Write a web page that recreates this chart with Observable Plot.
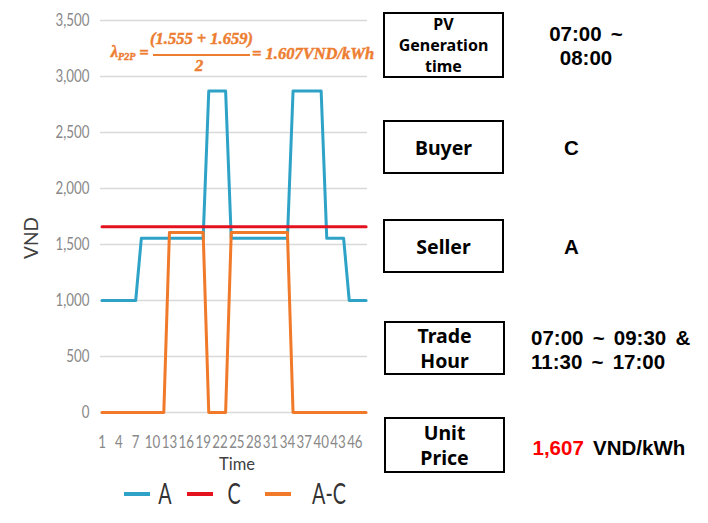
<!DOCTYPE html>
<html>
<head>
<meta charset="utf-8">
<script src="https://cdn.jsdelivr.net/npm/d3@7"></script>
<script src="https://cdn.jsdelivr.net/npm/@observablehq/plot@0.6"></script>
<style>
  html, body { margin: 0; padding: 0; background: #fff; }
  #wrap { position: relative; width: 708px; height: 523px; overflow: hidden; background: #fff; }
  #chart { position: absolute; left: 0; top: 0; }
  .abs { position: absolute; white-space: nowrap; line-height: 1; transform: translate(-50%, -50%); }
  .f { font-family: "Liberation Serif", serif; font-weight: bold; font-style: italic; color: #ED7D31; font-size: 16.5px; -webkit-text-stroke: 0.45px #ED7D31; }
  .box { position: absolute; box-sizing: border-box; border: 2px solid #000; display: flex; flex-direction: column;
         align-items: center; justify-content: center; font-family: "Noto Sans", sans-serif; font-weight: bold; color: #000; }
  .val { position: absolute; font-family: "Liberation Sans", Arial, sans-serif; font-weight: bold; color: #000; font-size: 20.5px; white-space: nowrap; word-spacing: 3.5px; }
  .leg { position: absolute; height: 4px; }
  .legt { font-family: Lato, sans-serif; font-size: 29px; color: #333; }
</style>
</head>
<body>
<div id="wrap">
  <div id="chart"></div>
</div>
<script>
// ---- data ----
const time = [1,2,3,4,5,6,7,8,9,10,11,12,13,14,15,16,17,18,19,20,21,22,23,24,
              25,26,27,28,29,30,31,32,33,34,35,36,37,38,39,40,41,42,43,44,45,46,47,48];
const seriesA = [1000,1000,1000,1000,1000,1000,1000,
                 1555,1555,1555,1555,1555,1555,1555,1555,1555,1555,1555,1555,
                 2870,2870,2870,2870,
                 1555,1555,1555,1555,1555,1555,1555,1555,1555,1555,1555,
                 2870,2870,2870,2870,2870,2870,
                 1555,1555,1555,1555,
                 1000,1000,1000,1000];
const seriesC = [1659,1659,1659,1659,1659,1659,1659,1659,1659,1659,1659,1659,
                 1659,1659,1659,1659,1659,1659,1659,1659,1659,1659,1659,1659,
                 1659,1659,1659,1659,1659,1659,1659,1659,1659,1659,1659,1659,
                 1659,1659,1659,1659,1659,1659,1659,1659,1659,1659,1659,1659];
const seriesAC = [0,0,0,0,0,0,0,0,0,0,0,0,
                  1607,1607,1607,1607,1607,1607,1607,
                  0,0,0,0,
                  1607,1607,1607,1607,1607,1607,1607,1607,1607,1607,1607,
                  0,0,0,0,0,0,0,0,0,0,0,0,0,0];
const seriesNames = ["A", "C", "A-C"];
const seriesColors = ["#2EA3C7", "#E3121E", "#F07A2A"];
const xTicks = [1,4,7,10,13,16,19,22,25,28,31,34,37,40,43,46];
const yTicks = [0,500,1000,1500,2000,2500,3000,3500];
const xTitle = "Time";
const yTitle = "VND";

const rows = [];
[seriesA, seriesC, seriesAC].forEach((s, k) => s.forEach((v, i) => rows.push({t: time[i], v, s: seriesNames[k]})));

const chart = Plot.plot({
  width: 380, height: 523,
  marginLeft: 100, marginRight: 13, marginTop: 20, marginBottom: 111,
  style: {fontFamily: "Lato, sans-serif", fontSize: "18px", color: "#8a8a8a", background: "transparent", overflow: "visible"},
  x: {type: "linear", domain: [1, 48], range: [101.5, 365.6], ticks: xTicks, tickFormat: d => String(d), tickSize: 0, tickPadding: 23, label: null},
  y: {domain: [0, 3500], ticks: yTicks, tickFormat: d3.format(","), tickSize: 0, tickPadding: 11, label: null},
  color: {domain: seriesNames, range: seriesColors},
  marks: [
    Plot.ruleY(yTicks, {stroke: "#d9d9d9", strokeWidth: 1.5}),
    Plot.line(rows, {x: "t", y: "v", z: "s", stroke: "s", strokeWidth: 3, strokeLinejoin: "round", strokeLinecap: "round"})
  ]
});
document.getElementById("chart").appendChild(chart);

// squeeze the axis tick labels horizontally like the reference
const svg = chart.tagName.toLowerCase() === "svg" ? chart : chart.querySelector("svg");
d3.select(svg).selectAll('g[aria-label^="x-axis"] text, g[aria-label^="y-axis"] text').each(function () {
  const s = 0.74;
  const t = this.getAttribute("transform");
  if (t) this.setAttribute("transform", t + ` scale(${s},1)`);
  else {
    const x = +this.getAttribute("x") || 0;
    this.setAttribute("transform", `translate(${x},0) scale(${s},1) translate(${-x},0)`);
  }
  this.setAttribute("fill", "#888");
});

const wrap = document.getElementById("wrap");
function add(html, cx, cy, cls, extra) {
  const d = document.createElement("div");
  d.className = "abs " + (cls || "");
  d.style.left = cx + "px"; d.style.top = cy + "px";
  if (extra) d.style.transform = "translate(-50%,-50%) " + extra;
  d.innerHTML = html;
  wrap.appendChild(d);
  return d;
}
// axis titles
add(xTitle, 237, 464, "", null).style.cssText += "font-family:Lato,sans-serif;font-size:16.5px;color:#404040;";
add(yTitle, 30, 237.5, "", "rotate(-90deg)").style.cssText += "font-family:Lato,sans-serif;font-size:19px;color:#404040;";

// formula annotation
add('λ<span style="font-size:10px;position:relative;top:3px">P2P</span>', 123, 52, "f");
add("=", 144, 52.5, "f");
add("(1.555 + 1.659)", 201.5, 38.5, "f");
const bar = document.createElement("div");
bar.style.cssText = "position:absolute;left:153px;top:54px;width:97px;height:1.8px;background:#ED7D31;";
wrap.appendChild(bar);
add("2", 199, 65.5, "f");
const rest = add("= 1.607VND/kWh", 252, 54, "f");
rest.style.transform = "translate(0,-50%)";

// legend
seriesNames.forEach((n, i) => {
  const lx = [124, 187, 265][i];
  const l = document.createElement("div");
  l.className = "leg";
  l.style.cssText += `left:${lx}px;top:492px;width:26px;background:${seriesColors[i]};`;
  wrap.appendChild(l);
  add(n, [165, 234, 328.5][i], 492.2, "legt", "scaleX(0.68)");
});

// right-hand info panel
const boxes = [
  {lines: ["PV", "Generation", "time"], x: 383, y: 12, w: 121, h: 66, fs: 16, lh: 21},
  {lines: ["Buyer"], x: 383, y: 120, w: 121, h: 54, fs: 19.5, lh: 25},
  {lines: ["Seller"], x: 383, y: 219, w: 121, h: 54, fs: 19.5, lh: 25},
  {lines: ["Trade", "Hour"], x: 384, y: 321, w: 121, h: 54, fs: 19.5, lh: 25},
  {lines: ["Unit", "Price"], x: 384, y: 417, w: 121, h: 56, fs: 19.5, lh: 25}
];
boxes.forEach(b => {
  const d = document.createElement("div");
  d.className = "box";
  d.style.cssText += `left:${b.x}px;top:${b.y}px;width:${b.w}px;height:${b.h}px;font-size:${b.fs}px;line-height:${b.lh}px;`;
  d.innerHTML = b.lines.join("<br>");
  d.style.textAlign = "center";
  wrap.appendChild(d);
});
function val(html, left, cy, center, lh) {
  const d = document.createElement("div");
  d.className = "val";
  d.style.left = left + "px"; d.style.top = cy + "px";
  d.style.lineHeight = (lh || 20) + "px";
  d.style.textAlign = center ? "center" : "left";
  d.style.transform = center ? "translate(-50%,-50%)" : "translate(0,-50%)";
  d.innerHTML = html;
  wrap.appendChild(d);
}
val("07:00 ~<br>08:00", 586, 45.5, true, 24);
val("C", 571.5, 147.5, true);
val("A", 571.5, 247, true);
val("07:00 ~ 09:30 &amp;<br>11:30 ~ 17:00", 531, 349.5, false, 24);
val('<span style="color:#FF0000">1,607</span> VND/kWh', 532.5, 447.5, false);
</script>
</body>
</html>
